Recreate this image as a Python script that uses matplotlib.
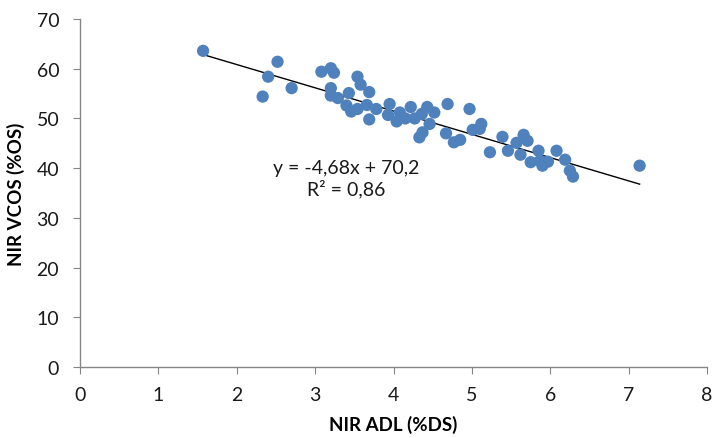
import numpy as np
import matplotlib
matplotlib.use("Agg")
import matplotlib.pyplot as plt

plt.rcParams['font.family'] = ['Lato', 'DejaVu Sans']

# NIR ADL (%DS) vs NIR VCOS (%OS)
adl = [1.57, 2.33, 2.40, 2.52, 2.70, 3.08, 3.20, 3.24, 3.20, 3.20,
       3.29, 3.40, 3.43, 3.46, 3.54, 3.58, 3.69, 3.54, 3.66, 3.69,
       3.78, 3.95, 3.93, 4.04, 4.08, 4.15, 4.22, 4.27, 4.36, 4.43,
       4.52, 4.46, 4.37, 4.33, 4.69, 4.67, 4.77, 4.85, 4.97, 5.01,
       5.12, 5.10, 5.23, 5.39, 5.46, 5.57, 5.62, 5.66, 5.71, 5.85,
       5.75, 5.87, 5.90, 5.97, 6.08, 6.19, 6.25, 6.29, 7.14]
vcos = [63.6, 54.4, 58.4, 61.4, 56.1, 59.4, 60.1, 59.2, 56.1, 54.6,
        54.1, 52.6, 55.1, 51.4, 58.4, 56.8, 55.3, 51.9, 52.7, 49.8,
        51.9, 52.9, 50.7, 49.4, 51.2, 50.0, 52.3, 50.0, 50.9, 52.3,
        51.2, 48.9, 47.2, 46.2, 52.9, 47.0, 45.2, 45.7, 51.9, 47.7,
        48.9, 47.9, 43.2, 46.3, 43.5, 45.1, 42.7, 46.7, 45.5, 43.5,
        41.2, 41.5, 40.5, 41.3, 43.5, 41.7, 39.5, 38.3, 40.5]

# linear trend as printed on the chart
slope = -4.68
intercept = 70.2
r2 = 0.86

x_ticks = [0, 1, 2, 3, 4, 5, 6, 7, 8]
y_ticks = [0, 10, 20, 30, 40, 50, 60, 70]

fig = plt.figure(figsize=(7.12, 4.39), dpi=100)
ax = fig.add_axes([0.1124, 0.1617, 0.8806, 0.7927])

ax.scatter(adl, vcos, s=78, color='#4F81BD', edgecolors='none', zorder=3)

xl = np.array([min(adl), max(adl)])
ax.plot(xl, slope * xl + intercept, color='black', lw=1.0, zorder=2)

eq = 'y = ' + ('%.2f' % slope).replace('.', ',') + 'x + ' + ('%.1f' % intercept).replace('.', ',')
ax.text(3.39, 40.2, eq, ha='center', va='center', fontsize=14, color='#1a1a1a')
ax.text(3.39, 36.0, 'R² = ' + ('%.2f' % r2).replace('.', ','), ha='center', va='center',
        fontsize=14, color='#1a1a1a')

ax.set_xlim(0, 8)
ax.set_ylim(0, 70)
ax.set_xticks(x_ticks)
ax.set_yticks(y_ticks)
ax.tick_params(direction='out', length=5, color='#868686', labelsize=14,
               labelcolor='#1a1a1a')
ax.tick_params(axis='x', pad=9)
ax.tick_params(axis='y', pad=10)

for s in ['top', 'right']:
    ax.spines[s].set_visible(False)
for s in ['left', 'bottom']:
    ax.spines[s].set_color('#868686')
    ax.spines[s].set_linewidth(1.0)

ax.set_xlabel('NIR ADL (%DS)', fontsize=13.5, fontweight='bold', labelpad=8)
ax.set_ylabel('NIR VCOS (%OS)', fontsize=13.5, fontweight='bold', labelpad=8)

fig.savefig('out.png', dpi=100)
